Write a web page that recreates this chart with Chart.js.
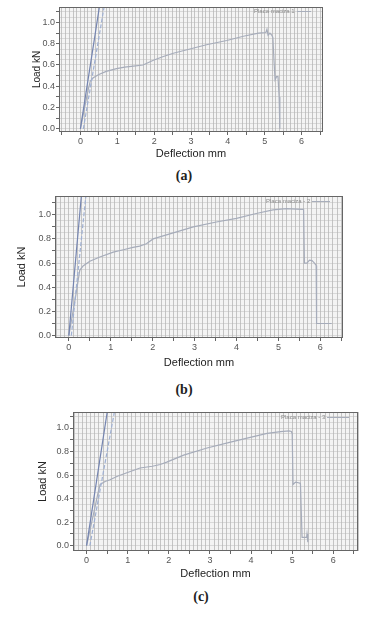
<!DOCTYPE html>
<html>
<head>
<meta charset="utf-8">
<script src="https://cdn.jsdelivr.net/npm/chart.js@4.4.1/dist/chart.umd.min.js"></script>
<style>
    body { margin: 0; background: #fff; width: 389px; height: 618px; position: relative; overflow: hidden; font-family: "Liberation Sans", Arial, sans-serif; }
    .panel { position: absolute; left: 0; width: 389px; }
    .cap { position: absolute; font-family: "Liberation Serif", serif; font-weight: bold; font-size: 14px; color: #222; transform: translate(-50%, -50%); }
    .leg { position: absolute; font-size: 6px; color: #8a8a8a; white-space: nowrap; display: flex; align-items: center; }
    .leg span.ln { display: inline-block; height: 0; border-top: 1px solid #a8aebb; margin-left: 2px; }
</style>
</head>
<body>
<div class="panel" style="top:0;height:165px"><canvas id="chartA"></canvas></div>
<div class="panel" style="top:186px;height:188px"><canvas id="chartB"></canvas></div>
<div class="panel" style="top:402px;height:183px"><canvas id="chartC"></canvas></div>

<div class="cap" style="left:184px;top:176px">(a)</div>
<div class="cap" style="left:184px;top:390px">(b)</div>
<div class="cap" style="left:201px;top:597px">(c)</div>

<div class="leg" style="left:254px;top:8px">Placa maciza 1<span class="ln" style="width:14px"></span></div>
<div class="leg" style="left:266px;top:198px">Placa maciza - 2<span class="ln" style="width:18px"></span></div>
<div class="leg" style="left:281px;top:414px">Placa maciza - 3<span class="ln" style="width:22px"></span></div>

<script>
// tick labels
const xTicks = [0, 1, 2, 3, 4, 5, 6];
const yTicks = [0.0, 0.2, 0.4, 0.6, 0.8, 1.0];

// (a) Placa maciza 1
const defA = [0, 0.08, 0.16, 0.22, 0.27, 0.35, 0.5, 0.7, 0.98, 1.2, 1.44, 1.7, 1.98, 2.25, 2.52, 2.97, 3.42, 3.97, 4.42, 4.83, 5.03, 5.06, 5.09, 5.14, 5.19, 5.22, 5.25, 5.28, 5.32, 5.36, 5.39, 5.41];
const loadA = [0, 0.14, 0.28, 0.38, 0.45, 0.48, 0.51, 0.54, 0.565, 0.58, 0.59, 0.6, 0.645, 0.68, 0.71, 0.75, 0.79, 0.83, 0.87, 0.9, 0.905, 0.935, 0.88, 0.9, 0.88, 0.86, 0.65, 0.46, 0.49, 0.49, 0.3, 0.0];
const fitA1x = [0, 0.54], fitA1y = [0, 1.2];
const fitA2x = [0.08, 0.67], fitA2y = [0, 1.2];

// (b) Placa maciza - 2
const defB = [0, 0.08, 0.16, 0.22, 0.26, 0.34, 0.5, 0.74, 1.06, 1.3, 1.53, 1.69, 1.85, 2.01, 2.49, 2.97, 3.52, 4.0, 4.47, 4.87, 5.19, 5.55, 5.6, 5.62, 5.68, 5.74, 5.8, 5.86, 5.9, 5.91, 6.27];
const loadB = [0, 0.16, 0.32, 0.45, 0.54, 0.576, 0.615, 0.65, 0.69, 0.71, 0.73, 0.74, 0.76, 0.8, 0.85, 0.9, 0.94, 0.97, 1.01, 1.04, 1.05, 1.045, 1.045, 0.6, 0.6, 0.625, 0.62, 0.6, 0.58, 0.1, 0.1];
const fitB1x = [0, 0.31], fitB1y = [0, 1.2];
const fitB2x = [0.06, 0.42], fitB2y = [0, 1.2];

// (c) Placa maciza - 3
const defC = [0, 0.1, 0.2, 0.28, 0.33, 0.45, 0.57, 0.75, 0.98, 1.3, 1.6, 1.79, 1.95, 2.36, 2.93, 3.5, 3.98, 4.39, 4.72, 4.92, 4.98, 5.0, 5.02, 5.08, 5.15, 5.2, 5.22, 5.24, 5.35, 5.36, 5.38];
const loadC = [0, 0.16, 0.32, 0.45, 0.52, 0.545, 0.56, 0.59, 0.62, 0.66, 0.675, 0.69, 0.71, 0.77, 0.83, 0.88, 0.92, 0.955, 0.97, 0.975, 0.97, 0.95, 0.52, 0.54, 0.535, 0.53, 0.3, 0.07, 0.07, 0.1, 0.03];
const fitC1x = [0, 0.53], fitC1y = [0, 1.2];
const fitC2x = [0.08, 0.71], fitC2y = [0, 1.2];

const pts = (xs, ys) => xs.map((x, i) => ({ x: x, y: ys[i] }));
const near = (v, list) => list.some(t => Math.abs(v - t) < 1e-6);
const isMult = (v, s) => Math.abs(v / s - Math.round(v / s)) < 1e-6;

// rejilla menor: una linea cada "step" dentro del rango
function gridTicks(min, max, step) {
    const out = [];
    for (let i = Math.ceil(min / step - 1e-9); i * step <= max + 1e-9; i++) {
        out.push({ value: Math.round(i * step * 1000) / 1000 });
    }
    return out;
}

// fondo gris y marco del area
const frame = {
    id: 'frame',
    beforeDraw(chart) {
        const a = chart.chartArea, c = chart.ctx;
        c.save();
        c.fillStyle = '#f4f4f4';
        c.fillRect(a.left, a.top, a.right - a.left, a.bottom - a.top);
        c.restore();
    },
    afterDraw(chart) {
        const a = chart.chartArea, c = chart.ctx;
        c.save();
        c.strokeStyle = '#666';
        c.lineWidth = 1;
        c.strokeRect(a.left + 0.5, a.top + 0.5, a.right - a.left - 1, a.bottom - a.top - 1);
        c.restore();
    }
};

function makeChart(id, cfg) {
    new Chart(document.getElementById(id), {
        type: 'scatter',
        data: {
            datasets: [
                { data: pts(cfg.fit2x, cfg.fit2y), showLine: true, borderColor: '#9fb0d3', borderWidth: 1.2, borderDash: [4, 2], pointRadius: 0 },
                { data: pts(cfg.fit1x, cfg.fit1y), showLine: true, borderColor: '#7484b0', borderWidth: 1.2, pointRadius: 0 },
                { data: pts(cfg.xs, cfg.ys), showLine: true, borderColor: '#a6acba', borderWidth: 1.2, pointRadius: 0, tension: 0 }
            ]
        },
        options: {
            responsive: true,
            maintainAspectRatio: false,
            animation: false,
            events: [],
            layout: { padding: { left: 0, right: 389 - cfg.right, top: cfg.top, bottom: 0 } },
            plugins: { legend: { display: false }, tooltip: { enabled: false } },
            scales: {
                x: {
                    type: 'linear',
                    min: cfg.xmin, max: cfg.xmax,
                    afterBuildTicks: s => { s.ticks = gridTicks(cfg.xmin, cfg.xmax, 0.1); },
                    afterFit: s => { s.height = cfg.xh; },
                    ticks: {
                        autoSkip: false, maxRotation: 0,
                        padding: 1, color: '#555', font: { size: 9, family: 'Liberation Sans' },
                        callback: v => near(v, xTicks) ? String(Math.round(v)) : ''
                    },
                    grid: {
                        color: 'rgba(175,175,175,0.7)',
                        lineWidth: 1,
                        tickLength: 3,
                        tickColor: ctx => isMult(ctx.tick.value, 0.5) ? '#666' : 'rgba(0,0,0,0)'
                    },
                    border: { display: false },
                    title: { display: true, text: 'Deflection mm', color: '#222', font: { size: 11, family: 'Liberation Sans' }, padding: { top: 0, bottom: 4 } }
                },
                y: {
                    type: 'linear',
                    min: cfg.ymin, max: cfg.ymax,
                    afterBuildTicks: s => { s.ticks = gridTicks(cfg.ymin, cfg.ymax, 0.05); },
                    afterFit: s => { s.width = cfg.left; },
                    ticks: {
                        autoSkip: false,
                        padding: 1, color: '#555', font: { size: 9, family: 'Liberation Sans' },
                        callback: v => near(v, yTicks) ? v.toFixed(1) : ''
                    },
                    grid: {
                        color: 'rgba(185,185,185,0.45)',
                        lineWidth: 1,
                        tickLength: 3,
                        tickColor: ctx => isMult(ctx.tick.value, 0.1) ? '#666' : 'rgba(0,0,0,0)'
                    },
                    border: { display: false },
                    title: { display: true, text: 'Load kN', color: '#222', font: { size: cfg.yfs, family: 'Liberation Sans' }, padding: { top: cfg.ytp, bottom: 0 } }
                }
            }
        },
        plugins: [frame]
    });
}

makeChart('chartA', { xs: defA, ys: loadA, fit1x: fitA1x, fit1y: fitA1y, fit2x: fitA2x, fit2y: fitA2y,
    xmin: -0.58, xmax: 6.58, ymin: -0.03, ymax: 1.145, left: 59, right: 323, top: 7, xh: 33, ytp: 31, yfs: 10 });
makeChart('chartB', { xs: defB, ys: loadB, fit1x: fitB1x, fit1y: fitB1y, fit2x: fitB2x, fit2y: fitB2y,
    xmin: -0.33, xmax: 6.54, ymin: -0.02, ymax: 1.155, left: 55, right: 343, top: 10, xh: 36, ytp: 15, yfs: 11 });
makeChart('chartC', { xs: defC, ys: loadC, fit1x: fitC1x, fit1y: fitC1y, fit2x: fitC2x, fit2y: fitC2y,
    xmin: -0.33, xmax: 6.6, ymin: -0.045, ymax: 1.136, left: 73, right: 358, top: 10, xh: 34, ytp: 36, yfs: 11 });
</script>
</body>
</html>
